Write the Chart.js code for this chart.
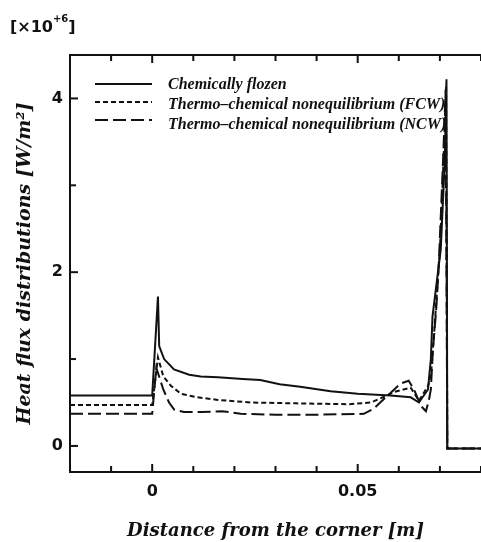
<!DOCTYPE html>
<html>
<head>
<meta charset="utf-8">
<script src="https://cdn.jsdelivr.net/npm/chart.js@4.4.1/dist/chart.umd.min.js"></script>
<style>
  html, body { margin: 0; padding: 0; background: #fff; }
</style>
</head>
<body>
<canvas id="grafico" width="481" height="542"></canvas>
<script>
// ===== DADOS (x em m, y em 10^6 W/m2) =====
const frozenX = [-0.02, 0, 0.0014, 0.0017, 0.0029, 0.0053, 0.009, 0.0118, 0.016, 0.022, 0.0263, 0.031, 0.036, 0.0434, 0.05, 0.058, 0.0629, 0.0649, 0.0671, 0.0678, 0.0682, 0.0702, 0.0712, 0.0716, 0.0718, 0.08];
const frozenY = [0.58, 0.58, 1.72, 1.15, 1.0, 0.88, 0.82, 0.80, 0.79, 0.77, 0.76, 0.71, 0.68, 0.63, 0.60, 0.58, 0.56, 0.50, 0.65, 1.0, 1.49, 2.26, 3.29, 4.22, -0.03, -0.03];

const fcwX = [-0.02, 0, 0.0014, 0.0027, 0.0046, 0.007, 0.011, 0.016, 0.024, 0.035, 0.048, 0.0532, 0.0561, 0.0588, 0.0629, 0.0641, 0.0649, 0.0671, 0.0678, 0.0687, 0.0700, 0.0709, 0.0715, 0.0718, 0.08];
const fcwY = [0.47, 0.47, 1.02, 0.80, 0.69, 0.60, 0.56, 0.53, 0.50, 0.49, 0.48, 0.50, 0.56, 0.62, 0.67, 0.58, 0.52, 0.69, 0.80, 1.37, 2.26, 3.3, 4.15, -0.03, -0.03];

const ncwX = [-0.02, 0, 0.001, 0.0027, 0.0041, 0.0053, 0.0077, 0.012, 0.017, 0.0215, 0.03, 0.04, 0.0515, 0.0539, 0.0573, 0.0605, 0.0624, 0.0637, 0.0654, 0.0666, 0.0673, 0.0678, 0.0683, 0.0691, 0.0697, 0.0707, 0.0714, 0.0718, 0.08];
const ncwY = [0.37, 0.37, 0.90, 0.65, 0.50, 0.42, 0.39, 0.39, 0.40, 0.37, 0.36, 0.36, 0.37, 0.43, 0.58, 0.72, 0.75, 0.65, 0.46, 0.40, 0.52, 0.65, 1.11, 1.57, 2.06, 3.2, 4.1, -0.03, -0.03];

const nomes = ["Chemically flozen", "Thermo\u2013chemical nonequilibrium (FCW)", "Thermo\u2013chemical nonequilibrium (NCW)"];
const xTicksLabel = [0, 0.05];
const yTicksLabel = [0, 2, 4];

const COR = "#111";

function pares(xs, ys) {
  return xs.map((x, i) => ({ x: x, y: ys[i] }));
}

function temLabel(v, lista) {
  return lista.some(l => Math.abs(l - v) < 1e-9);
}

// ===== moldura, ticks para dentro, legenda e unidade =====
const moldura = {
  id: "moldura",
  afterDraw(chart) {
    const ctx = chart.ctx;
    const a = chart.chartArea;
    const sx = chart.scales.x, sy = chart.scales.y;
    ctx.save();
    ctx.strokeStyle = COR;
    ctx.lineWidth = 2;

    // borda de cima
    ctx.beginPath();
    ctx.moveTo(a.left, a.top);
    ctx.lineTo(a.right, a.top);
    ctx.stroke();

    // ticks do eixo x (baixo e cima)
    sx.ticks.forEach(t => {
      const px = sx.getPixelForValue(t.value);
      const len = temLabel(t.value, xTicksLabel) ? 8 : 6;
      ctx.beginPath();
      ctx.moveTo(px, a.bottom); ctx.lineTo(px, a.bottom - len);
      ctx.moveTo(px, a.top); ctx.lineTo(px, a.top + len);
      ctx.stroke();
    });

    // ticks do eixo y
    sy.ticks.forEach(t => {
      if (Math.abs(t.value - Math.round(t.value)) > 1e-9) return;
      const py = sy.getPixelForValue(t.value);
      const len = temLabel(t.value, yTicksLabel) ? 8 : 6;
      ctx.beginPath();
      ctx.moveTo(a.left, py); ctx.lineTo(a.left + len, py);
      ctx.stroke();
    });

    // legenda
    ctx.font = "bold italic 16px 'Liberation Serif'";
    ctx.textBaseline = "middle";
    ctx.fillStyle = COR;
    chart.data.datasets.forEach((ds, i) => {
      const yl = 84 + i * 18;
      ctx.lineWidth = ds.borderWidth;
      ctx.setLineDash(ds.borderDash || []);
      ctx.beginPath();
      ctx.moveTo(95, yl); ctx.lineTo(152, yl);
      ctx.stroke();
      ctx.setLineDash([]);
      ctx.fillText(ds.label, 168, 85 + i * 20);
    });

    // unidade [x10^+6]
    ctx.font = "bold 16px 'DejaVu Sans'";
    ctx.textBaseline = "alphabetic";
    let x = 10;
    ctx.fillText("[\u00d710", x, 32);
    x += ctx.measureText("[\u00d710").width;
    ctx.font = "bold 10px 'DejaVu Sans'";
    ctx.fillText("+6", x, 22);
    x += ctx.measureText("+6").width;
    ctx.font = "bold 16px 'DejaVu Sans'";
    ctx.fillText("]", x, 32);

    ctx.restore();
  }
};

const estiloLinha = { borderColor: COR, borderWidth: 2, pointRadius: 0, fill: false, tension: 0 };

new Chart(document.getElementById("grafico"), {
  type: "line",
  data: {
    datasets: [
      Object.assign({ label: nomes[0], data: pares(frozenX, frozenY), borderDash: [] }, estiloLinha),
      Object.assign({ label: nomes[1], data: pares(fcwX, fcwY), borderDash: [5, 3] }, estiloLinha),
      Object.assign({ label: nomes[2], data: pares(ncwX, ncwY), borderDash: [13, 5] }, estiloLinha)
    ]
  },
  options: {
    responsive: false,
    animation: false,
    layout: { padding: { top: 55, left: 0, right: 0, bottom: 0 } },
    plugins: {
      legend: { display: false },
      tooltip: { enabled: false }
    },
    scales: {
      x: {
        type: "linear",
        min: -0.02,
        max: 0.08,
        afterFit: s => { s.height = 70; s.paddingLeft = 0; s.paddingRight = 0; },
        grid: { display: false, drawTicks: false },
        border: { display: true, color: COR, width: 2 },
        ticks: {
          stepSize: 0.01,
          autoSkip: false,
          maxRotation: 0,
          padding: 10,
          color: COR,
          font: { family: "DejaVu Sans", weight: "bold", size: 16 },
          callback: v => temLabel(v, xTicksLabel) ? (Math.abs(v) < 1e-9 ? "0" : String(Math.round(v * 100) / 100)) : ""
        },
        title: {
          display: true,
          text: "Distance from the corner [m]",
          color: COR,
          font: { family: "DejaVu Serif", weight: "bold", style: "italic", size: 18 },
          padding: { top: 0, bottom: 0 }
        }
      },
      y: {
        min: -0.3,
        max: 4.5,
        afterFit: s => { s.width = 70; },
        grid: { display: false, drawTicks: false },
        border: { display: true, color: COR, width: 2 },
        ticks: {
          stepSize: 1,
          padding: 7,
          color: COR,
          font: { family: "DejaVu Sans", weight: "bold", size: 16 },
          callback: v => temLabel(v, yTicksLabel) ? String(v) : ""
        },
        title: {
          display: true,
          text: "Heat flux distributions [W/m\u00b2]",
          color: COR,
          font: { family: "DejaVu Serif", weight: "bold", style: "italic", size: 19 },
          padding: { top: 14, bottom: 0 }
        }
      }
    }
  },
  plugins: [moldura]
});
</script>
</body>
</html>
